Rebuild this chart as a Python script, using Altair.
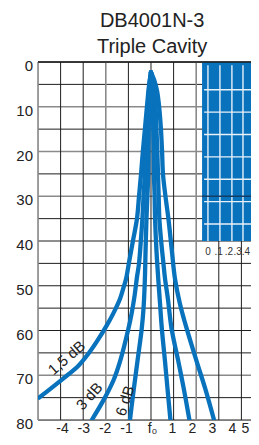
import altair as alt
import pandas as pd

title_lines = ["DB4001N-3", "Triple Cavity"]
title_x = [0.05, 0.05]
title_db = [-7.8, -2.0]

# ---- response curves: offset from f0 (x) and attenuation in dB ----
c15_x = [0, -0.08, -0.18, -0.27, -0.36, -0.44, -0.53, -0.62, -0.8, -0.98, -1.1, -1.22, -1.37, -1.65, -1.95, -2.4, -2.7, -3.2, -3.9, -4.95]
c15_db = [2.3, 5, 10, 15, 20, 25, 30, 35, 40, 45, 48.4, 50.5, 52.9, 56, 58.8, 62.5, 64.7, 67.8, 70.8, 75]

c3_x = [0, -0.07, -0.14, -0.2, -0.24, -0.27, -0.33, -0.38, -0.45, -0.53, -0.63, -0.72, -0.85, -1.0, -1.37, -1.65, -2.04, -2.62]
c3_db = [2.3, 5, 10, 15, 20, 25, 30, 35, 40, 45, 48.4, 52, 56, 59.6, 66.9, 71, 75, 80]

c6_x = [0, -0.05, -0.08, -0.1, -0.11, -0.12, -0.16, -0.2, -0.24, -0.27, -0.33, -0.41, -0.6, -0.81, -0.93]
c6_db = [2.3, 5, 10, 15, 20, 25, 30, 35, 42, 48.4, 55, 59.6, 66.9, 75, 80]

ri_x = [0, 0.05, 0.08, 0.1, 0.12, 0.13, 0.16, 0.18, 0.24, 0.32, 0.4, 0.48, 0.62, 0.73, 0.86]
ri_db = [2.3, 5, 10, 15, 20, 25, 30, 35, 42, 48.4, 54, 59.6, 66.9, 73, 80]

rm_x = [0, 0.1, 0.18, 0.24, 0.28, 0.31, 0.34, 0.37, 0.45, 0.55, 0.62, 0.75, 0.91, 1.21, 1.45, 1.7]
rm_db = [2.3, 4.5, 8, 15, 20, 25, 30, 35, 40, 45, 48.4, 53, 59.6, 66.9, 73, 80]

ro_x = [0, 0.14, 0.27, 0.36, 0.44, 0.49, 0.53, 0.64, 0.77, 0.92, 1.06, 1.28, 1.58, 2.02, 2.4, 2.79]
ro_db = [2.3, 4, 6.5, 10, 15, 20, 25, 30, 35, 42, 48.4, 54, 59.6, 66.9, 73, 80]

curve_labels = ["1,5 dB", "3 dB", "6 dB"]
curve_label_x = [-3.73, -2.73, -1.15]
curve_label_db = [66.1, 74.7, 75.7]
curve_label_angle = [319, 312, 288]

# ---- grid ----
h_grid = list(range(0, 85, 5))
h_gray = [10, 20, 30, 70]
v_grid = list(range(-5, 5))
v_gray = [-5, -2, 2]
y_ticks = list(range(0, 90, 10))
x_ticks = [-4, -3, -2, -1, 0, 1, 2, 3, 4, 5]
x_left = -5
x_right = 4.425   # the reference image is cropped at the right

# ---- inset (passband detail) ----
inset_x = [2.26, 5.0]
inset_db = [0, 40]
inset_vlines = [2.52, 3.05, 3.58, 4.07, 4.56]
inset_hlines = [6.2, 11.2, 16.2, 21.2, 26.2, 31.2, 36.2]
inset_labels = ["0", ".1", ".2", ".3", ".4"]
inset_label_x = [2.52, 2.99, 3.45, 3.83, 4.2]
inset_label_db = 42.4

BLUE = "#0872bd"
FONT = "Liberation Sans"

rows = []
for name, xs_, ds in [("c15", c15_x, c15_db), ("c3", c3_x, c3_db), ("c6", c6_x, c6_db),
                      ("ri", ri_x, ri_db), ("rm", rm_x, rm_db), ("ro", ro_x, ro_db)]:
    for i, (a, b) in enumerate(zip(xs_, ds)):
        rows.append({"curve": name, "i": i, "x": a, "db": b})
curves_df = pd.DataFrame(rows)

hg_df = pd.DataFrame({"v": h_grid,
                      "c": ["#8a8a8a" if v in h_gray else "#1e1e1e" for v in h_grid],
                      "w": [1.6 if v in h_gray else 1.0 for v in h_grid]})
vg_df = pd.DataFrame({"v": v_grid,
                      "c": ["#8a8a8a" if v in v_gray else "#1e1e1e" for v in v_grid],
                      "w": [1.6 if v in v_gray else 1.0 for v in v_grid]})

xs = alt.Scale(domain=[x_left, x_right], nice=False, zero=False)
ys = alt.Scale(domain=[0, 80], reverse=True, nice=False, zero=False)

hgrid = alt.Chart(hg_df).mark_rule().encode(
    y=alt.Y("v:Q", scale=ys, axis=None),
    color=alt.Color("c:N", scale=None),
    strokeWidth=alt.StrokeWidth("w:Q", scale=None),
)

vgrid = alt.Chart(vg_df).mark_rule().encode(
    x=alt.X("v:Q", scale=xs, axis=None),
    color=alt.Color("c:N", scale=None),
    strokeWidth=alt.StrokeWidth("w:Q", scale=None),
)

inset_df = pd.DataFrame({"x0": [inset_x[0]], "x1": [inset_x[1]], "d0": [inset_db[0]], "d1": [inset_db[1]]})
inset = alt.Chart(inset_df).mark_rect(color=BLUE, clip=True).encode(
    x=alt.X("x0:Q", scale=xs, axis=None), x2="x1:Q",
    y=alt.Y("d0:Q", scale=ys, axis=None), y2="d1:Q",
)

ivl = alt.Chart(pd.DataFrame({"v": inset_vlines, "d0": 0.7, "d1": inset_db[1]})).mark_rule(
    color="#e8f0f8", strokeWidth=1.4, clip=True).encode(
    x=alt.X("v:Q", scale=xs, axis=None),
    y=alt.Y("d0:Q", scale=ys, axis=None), y2="d1:Q",
)
ihl = alt.Chart(pd.DataFrame({"v": inset_hlines, "x0": 2.35, "x1": inset_x[1]})).mark_rule(
    color="#e8f0f8", strokeWidth=1.4, clip=True).encode(
    y=alt.Y("v:Q", scale=ys, axis=None),
    x=alt.X("x0:Q", scale=xs, axis=None), x2="x1:Q",
)
i30 = alt.Chart(pd.DataFrame({"v": [30], "x0": inset_x[0], "x1": inset_x[1]})).mark_rule(
    color="#123d66", strokeWidth=1.6, clip=True).encode(
    y=alt.Y("v:Q", scale=ys, axis=None),
    x=alt.X("x0:Q", scale=xs, axis=None), x2="x1:Q",
)
top_border = alt.Chart(pd.DataFrame({"v": [0]})).mark_rule(color="#1e1e1e", strokeWidth=1.4).encode(
    y=alt.Y("v:Q", scale=ys, axis=None),
)

ilab = alt.Chart(pd.DataFrame({"t": inset_labels, "x": inset_label_x, "d": inset_label_db})).mark_text(
    font=FONT, fontSize=10, color="#333", baseline="middle", align="center").encode(
    x=alt.X("x:Q", scale=xs, axis=None),
    y=alt.Y("d:Q", scale=ys, axis=None),
    text="t:N",
)

lines = alt.Chart(curves_df).mark_line(
    color=BLUE, strokeWidth=4.3, strokeCap="round", strokeJoin="round",
    interpolate="catmull-rom", clip=True).encode(
    x=alt.X("x:Q", scale=xs, axis=None),
    y=alt.Y("db:Q", scale=ys, axis=None),
    detail="curve:N",
    order="i:Q",
)

clab = alt.Chart(pd.DataFrame({"t": curve_labels, "x": curve_label_x, "d": curve_label_db,
                               "a": curve_label_angle})).mark_text(
    font=FONT, fontSize=15, color="#222", align="center", baseline="middle").encode(
    x=alt.X("x:Q", scale=xs, axis=None),
    y=alt.Y("d:Q", scale=ys, axis=None),
    text="t:N",
    angle=alt.Angle("a:Q", scale=None),
)

# y tick labels as text at the left edge of the plot
ylab = alt.Chart(pd.DataFrame({"v": y_ticks, "x": x_left})).mark_text(
    font=FONT, fontSize=15, color="#222", align="right", baseline="middle", dx=-5, dy=4).encode(
    x=alt.X("x:Q", scale=xs, axis=None),
    y=alt.Y("v:Q", scale=ys, axis=None),
    text=alt.Text("v:Q"),
)

# two-line title above the grid
ttl = alt.Chart(pd.DataFrame({"t": title_lines, "x": title_x, "d": title_db})).mark_text(
    font=FONT, fontSize=20, color="#222", align="center", baseline="alphabetic").encode(
    x=alt.X("x:Q", scale=xs, axis=None),
    y=alt.Y("d:Q", scale=ys, axis=None),
    text="t:N",
)

main = alt.layer(hgrid, vgrid, inset, ivl, ihl, i30, top_border, lines, clab, ilab, ylab, ttl)

xlab = alt.Chart(pd.DataFrame({"v": x_ticks})).mark_point(opacity=0).encode(
    x=alt.X("v:Q", scale=alt.Scale(domain=[-4, -1, 0, 4, 5], range=[24, 88, 114, 194, 207], nice=False, zero=False),
            axis=alt.Axis(values=x_ticks, grid=False, ticks=False, domain=False, title=None,
                          orient="bottom", labelFont=FONT, labelFontSize=14, labelColor="#222",
                          labelPadding=1, labelFlush=False, labelOverlap=False,
                          labelExpr="datum.value == 0 ? 'f\u2080' : (datum.value < 0 ? '-' + abs(datum.value) : datum.label)")),
    y=alt.value(0),
)

chart = alt.layer(main, xlab).resolve_scale(x="independent").properties(
    width=213, height=358,
    autosize=alt.AutoSizeParams(type="none"),
    padding={"left": 30, "top": 54, "right": 0, "bottom": 17},
).configure_view(stroke=None).configure(background="white")

chart.save("out.html", embed_options={"renderer": "svg", "actions": False})
